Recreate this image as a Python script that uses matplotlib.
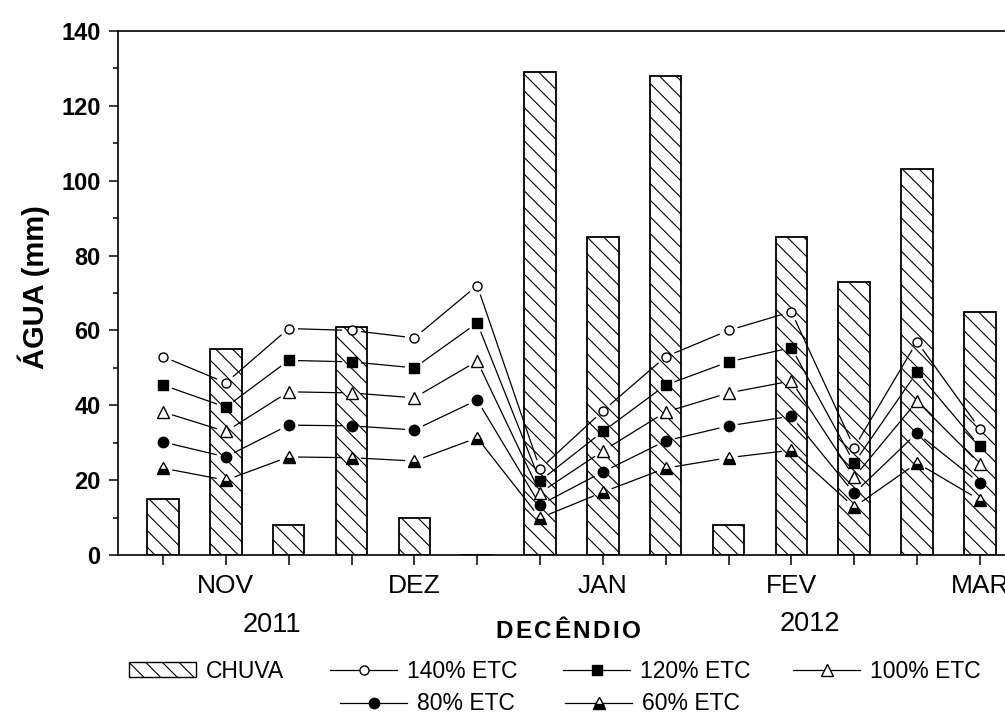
import numpy as np
import matplotlib
matplotlib.use("Agg")
import matplotlib.pyplot as plt
from matplotlib.lines import Line2D
from matplotlib.patches import Patch

plt.rcParams['font.family'] = ['Liberation Sans', 'DejaVu Sans']
plt.rcParams['hatch.linewidth'] = 0.8

W, H = 1005, 716

# decêndios (Nov/2011 .. Mar/2012), 1st-3rd ten-day period of each month
pos = np.arange(1, 15)
months = ['NOV', 'DEZ', 'JAN', 'FEV', 'MAR']
month_pos = [2, 5, 8, 11, 14]

chuva = [15, 55, 8, 61, 10, 0, 129, 85, 128, 8, 85, 73, 103, 65]

etc140 = [53, 46, 60.5, 60, 58, 72, 23, 38.5, 53, 60, 65, 28.7, 57, 33.7]
etc120 = [45.4, 39.5, 52, 51.6, 50, 62, 19.8, 33, 45.4, 51.6, 55.4, 24.6, 48.9, 29]
etc100 = [38.2, 33, 43.6, 43.3, 42, 51.8, 16.6, 27.8, 38.2, 43.3, 46.5, 20.8, 41.1, 24.3]
etc80 = [30.2, 26.2, 34.7, 34.5, 33.4, 41.4, 13.4, 22.2, 30.5, 34.5, 37.1, 16.5, 32.6, 19.2]
etc60 = [23.2, 20, 26.2, 26, 25.1, 31.3, 9.9, 16.8, 23.2, 26, 28, 12.8, 24.6, 14.7]

series = [
    ('140% ETC', etc140, dict(marker='o', markersize=6.5, markerfacecolor='white')),
    ('120% ETC', etc120, dict(marker='s', markersize=6.5, markerfacecolor='black')),
    ('100% ETC', etc100, dict(marker='^', markersize=9, markerfacecolor='white')),
    ('80% ETC', etc80, dict(marker='o', markersize=7.5, markerfacecolor='black')),
    ('60% ETC', etc60, dict(marker='^', markersize=9, fillstyle='bottom',
                            markerfacecolor='black', markerfacecoloralt='white')),
]

fig = plt.figure(figsize=(W / 100, H / 100), dpi=100)
ax = fig.add_axes([118 / W, 1 - 555 / H, 1 - 118 / W, (555 - 31) / H])

# ticks first, then limits (set_xticks would widen the view otherwise)
ax.set_xticks(pos)
xlabels = [''] * len(pos)
for m, p in zip(months, month_pos):
    xlabels[p - 1] = m
ax.set_xticklabels(xlabels)
ax.set_yticks(np.arange(0, 141, 20))
ax.set_yticks(np.arange(10, 140, 20), minor=True)
ax.set_xlim(0.284, 14.40)
ax.set_ylim(0, 140)

ax.bar(pos, chuva, width=0.5, color='white', edgecolor='black',
       linewidth=1.3, hatch='\\\\', zorder=2)


def gapped_line(x, y, gap):
    # segments between points, stopping short of each marker
    pts = ax.transData.transform(np.column_stack([x, y]))
    inv = ax.transData.inverted()
    for p0, p1 in zip(pts[:-1], pts[1:]):
        d = p1 - p0
        length = np.hypot(*d)
        if length <= 2 * gap:
            continue
        u = d / length
        seg = inv.transform(np.array([p0 + u * gap, p1 - u * gap]))
        ax.plot(seg[:, 0], seg[:, 1], color='black', linewidth=0.9, zorder=3)


for label, vals, style in series:
    gapped_line(pos, vals, 10)
    ax.plot(pos, vals, linestyle='none', markeredgecolor='black',
            markeredgewidth=1.0, zorder=4, **style)

# axes styling
ax.spines['right'].set_visible(False)
for s in ['left', 'bottom', 'top']:
    ax.spines[s].set_linewidth(1.2)
ax.tick_params(axis='y', which='major', direction='out', length=6.5, width=1.1,
               labelsize=17, pad=6)
ax.tick_params(axis='y', which='minor', direction='out', length=3.8, width=1.1)
for t in ax.get_yticklabels():
    t.set_fontweight('bold')
ax.tick_params(axis='x', direction='out', length=7, width=1.1,
               labelsize=19, pad=7)

fig.text(34 / W, 1 - 287 / H, 'ÁGUA (mm)', fontsize=21, fontweight='bold',
         rotation=90, ha='center', va='center')

fig.text(272 / W, 1 - 625 / H, '2011', fontsize=19.5, ha='center', va='center')
fig.text(810 / W, 1 - 624 / H, '2012', fontsize=19.5, ha='center', va='center')


def spaced_text(s, xc, yc, track, **kw):
    # bold axis title with wide letter spacing
    r = fig.canvas.get_renderer()
    placed, x = [], 0.0
    for ch in s:
        t = fig.text(0, yc / H, ch, va='center', ha='left', **kw)
        w = t.get_window_extent(r).width
        placed.append((t, x))
        x += w + track
    total = x - track
    for t, off in placed:
        t.set_x((xc - total / 2 + off) / W)


spaced_text('DECÊNDIO', 568, H - 632, 2.5, fontsize=17.5, fontweight='bold')

# legend entries, one per slot
fs = 16.5
fs_px = fs * 100 / 72
h_rain = Patch(facecolor='white', edgecolor='black', hatch='\\\\', linewidth=1.0)
handles = {'CHUVA': h_rain}
for label, vals, style in series:
    handles[label] = Line2D([], [], color='black', linewidth=0.9,
                            markeredgecolor='black', **style)

slots = [
    ('CHUVA', 129, 671),
    ('140% ETC', 330, 671),
    ('120% ETC', 563, 671),
    ('100% ETC', 793, 671),
    ('80% ETC', 340, 704),
    ('60% ETC', 565, 704),
]
for label, x0, y0 in slots:
    fig.legend([handles[label]], [label], loc='center left',
               bbox_to_anchor=(x0 / W, 1 - y0 / H), frameon=False,
               fontsize=fs, handlelength=67 / fs_px, handleheight=14 / fs_px,
               handletextpad=10 / fs_px, borderpad=0, borderaxespad=0)

fig.savefig('out.png', dpi=100)
